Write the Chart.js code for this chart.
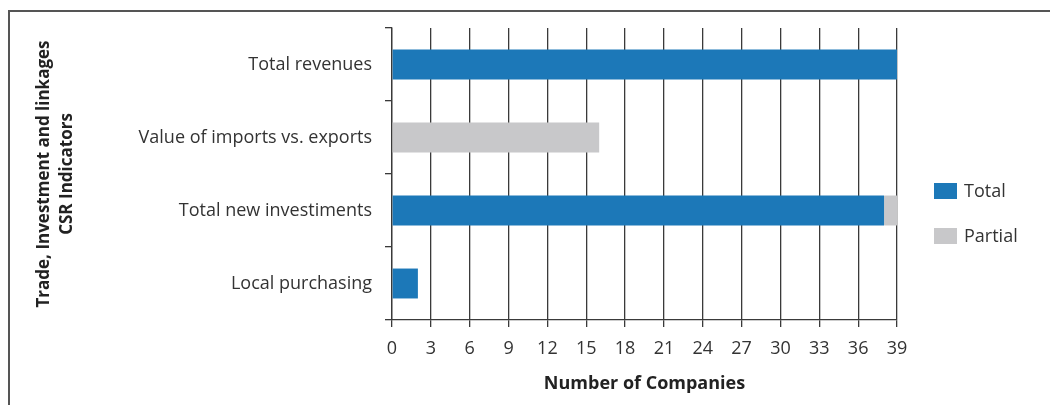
<!DOCTYPE html>
<html>
<head>
<meta charset="utf-8">
<script src="https://cdn.jsdelivr.net/npm/chart.js@4/dist/chart.umd.min.js"></script>
<style>
html,body{margin:0;padding:0;background:#fff;}
#wrap{position:relative;width:1050px;height:405px;}
#frame{position:absolute;left:8px;top:10px;right:0;bottom:0;border-top:2px solid #555;border-left:2px solid #555;pointer-events:none;}
canvas{position:absolute;left:0;top:0;}
</style>
</head>
<body>
<div id="wrap"><canvas id="c" width="1050" height="405"></canvas><div id="frame"></div></div>
<script>
const categories = ["Total revenues", "Value of imports vs. exports", "Total new investiments", "Local purchasing"];
const totalValues = [39, 0, 38, 2];
const partialValues = [0, 16, 1, 0];
const seriesNames = ["Total", "Partial"];
const xTitle = "Number of Companies";
const yTitle = ["Trade, Investment and linkages", "CSR Indicators"];

const FONT = "'Open Sans', sans-serif";
const colors = ["#1c78b8", "#c8c8ca"];

const legendPlugin = {
  id: 'customLegend',
  afterDraw(chart) {
    const ctx = chart.ctx;
    ctx.save();
    ctx.font = "18px " + FONT;
    ctx.textBaseline = "middle";
    ctx.textAlign = "left";
    const ys = [183, 228];
    chart.data.datasets.forEach((ds, i) => {
      ctx.fillStyle = ds.backgroundColor;
      ctx.fillRect(934, ys[i], 23, 16);
      ctx.fillStyle = "#333";
      ctx.fillText(ds.label, 964, ys[i] + 9);
    });
    ctx.restore();
  }
};

new Chart(document.getElementById('c'), {
  type: 'bar',
  data: {
    labels: categories,
    datasets: [
      { label: seriesNames[0], data: totalValues, backgroundColor: colors[0], barPercentage: 0.41, categoryPercentage: 1.0 },
      { label: seriesNames[1], data: partialValues, backgroundColor: colors[1], barPercentage: 0.41, categoryPercentage: 1.0 }
    ]
  },
  options: {
    indexAxis: 'y',
    responsive: false,
    animation: false,
    devicePixelRatio: 1,
    layout: { padding: { left: 0, right: 153, top: 28, bottom: 0 } },
    plugins: { legend: { display: false }, tooltip: { enabled: false } },
    scales: {
      x: {
        stacked: true,
        min: 0, max: 39,
        z: 1,
        ticks: { stepSize: 3, color: "#333", font: { family: FONT, size: 18 }, padding: 11, maxRotation: 0 },
        grid: { color: "#3a3a3a", lineWidth: 1.3, tickLength: 7, drawTicks: true },
        border: { color: "#3a3a3a", width: 1.3 },
        title: { display: true, text: xTitle, color: "#222", font: { family: FONT, size: 18, weight: 'bold' }, padding: { top: 4, bottom: 10 } },
        afterFit(s) { s.height = 85; }
      },
      y: {
        stacked: true,
        z: 1,
        ticks: { color: "#333", font: { family: FONT, size: 18 }, padding: 13 },
        grid: { drawOnChartArea: false, color: "#3a3a3a", lineWidth: 1.3, tickLength: 7, offset: true },
        border: { color: "#3a3a3a", width: 1.3 },
        title: { display: true, text: yTitle, color: "#222", font: { family: FONT, size: 17, weight: 'bold', lineHeight: 1.35 }, padding: { top: 33, bottom: 0 } },
        afterFit(s) { s.width = 392; }
      }
    }
  },
  plugins: [legendPlugin]
});
</script>
</body>
</html>
